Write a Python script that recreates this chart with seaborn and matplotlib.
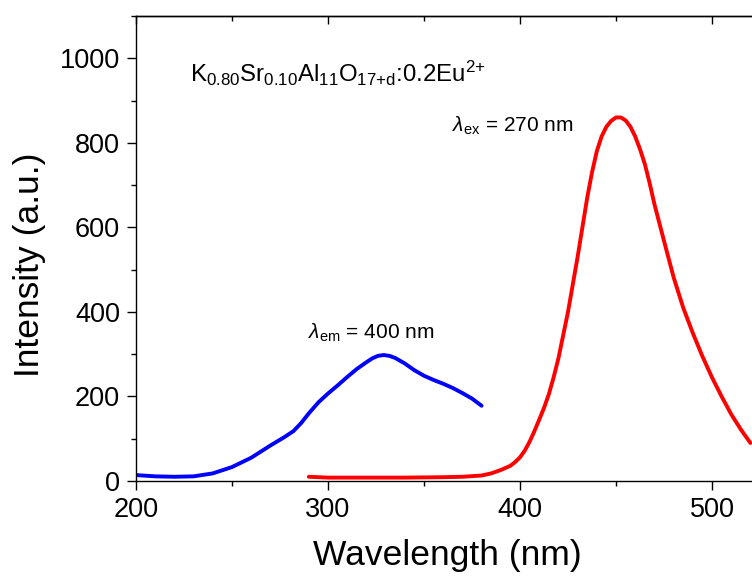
import matplotlib
matplotlib.use("Agg")
import matplotlib.pyplot as plt
from matplotlib.ticker import MultipleLocator
import pandas as pd
import seaborn as sb

# excitation spectrum (lambda_em = 400 nm)
ex_wl = [200, 210, 220, 230, 240, 250, 260, 270, 277, 282, 286, 290, 295, 300, 305,
         310, 315, 320, 323, 326, 329, 332, 335, 340, 345, 350, 355, 360, 365, 370, 375, 380]
ex_int = [14, 11, 10, 11, 18, 33, 55, 84, 103, 118, 137, 160, 186, 207, 226,
          246, 265, 281, 290, 296, 298, 296, 291, 278, 262, 249, 239, 230, 220, 208, 195, 178]

# emission spectrum (lambda_ex = 270 nm)
em_wl = [290, 300, 320, 340, 360, 370, 380, 385, 390, 395, 397.5, 400, 402.5, 405, 407.5,
         410, 412.5, 415, 417.5, 420, 422.5, 425, 427.5, 430, 432.5, 435, 437.5, 440,
         442.5, 445, 447.5, 450, 452.5, 455, 457.5, 460, 462.5, 465, 467.5, 470, 475,
         480, 485, 490, 495, 500, 505, 510, 515, 520]
em_int = [10, 8, 8, 8, 9, 10, 13, 18, 26, 36, 45, 56, 72, 93, 118,
          145, 173, 205, 245, 290, 345, 400, 465, 530, 600, 670, 730, 780,
          815, 838, 852, 860, 860, 853, 838, 815, 785, 750, 705, 655, 568,
          482, 410, 350, 295, 245, 200, 158, 122, 90]

sb.set_style("ticks")
plt.rcParams['font.family'] = ['Liberation Sans', 'DejaVu Sans']
plt.rcParams['mathtext.fontset'] = 'custom'
plt.rcParams['mathtext.rm'] = 'Liberation Sans'
plt.rcParams['mathtext.it'] = 'Liberation Sans:italic'
plt.rcParams['text.color'] = 'black'
plt.rcParams['axes.labelcolor'] = 'black'
plt.rcParams['xtick.color'] = 'black'
plt.rcParams['ytick.color'] = 'black'

ex = pd.DataFrame({"wl": ex_wl, "I": ex_int})
em = pd.DataFrame({"wl": em_wl, "I": em_int})

fig = plt.figure(figsize=(7.52, 5.77), dpi=100)
ax = fig.add_axes([136 / 752, 96 / 577, 652.8 / 752, 465 / 577])

sb.lineplot(data=ex, x="wl", y="I", color="#0000ff", linewidth=2.8, ax=ax)
sb.lineplot(data=em, x="wl", y="I", color="#ff0000", linewidth=2.8, ax=ax)

ax.set_xlim(200, 540)
ax.set_ylim(0, 1100)
ax.xaxis.set_major_locator(MultipleLocator(100))
ax.xaxis.set_minor_locator(MultipleLocator(50))
ax.yaxis.set_major_locator(MultipleLocator(200))
ax.yaxis.set_minor_locator(MultipleLocator(100))
ax.tick_params(which='major', direction='out', length=6.5, width=1, labelsize=19.5, pad=5)
ax.tick_params(which='minor', direction='out', length=3.5, width=1)

for s in ax.spines.values():
    s.set_linewidth(1)
    s.set_color('black')
ax.spines['right'].set_visible(False)

top = ax.secondary_xaxis('top')
top.xaxis.set_major_locator(MultipleLocator(100))
top.xaxis.set_minor_locator(MultipleLocator(50))
top.tick_params(which='major', direction='in', length=6, width=1, labeltop=False)
top.tick_params(which='minor', direction='in', length=3.5, width=1)
top.spines['top'].set_linewidth(1)
top.spines['top'].set_color('black')

ax.set_xlabel("Wavelength (nm)", fontsize=25.5, va='center')
ax.set_ylabel("Intensity (a.u.)", fontsize=25.5, va='center')
ax.xaxis.set_label_coords((447 - 136) / 652.8, (481 - 556) / 465)
ax.yaxis.set_label_coords((30 - 136) / 652.8, (481 - 265) / 465)

ax.text(228, 965, r"K$_{0.80}$Sr$_{0.10}$Al$_{11}$O$_{\mathrm{17{+}d}}$:0.2Eu$^{2{+}}$",
        fontsize=17.3, va='center', ha='left')
ax.text(364.5, 839, r"$\lambda_{\mathrm{ex}}$ = 270 nm", fontsize=15, va='center', ha='left')
ax.text(289.5, 350, r"$\lambda_{\mathrm{em}}$ = 400 nm", fontsize=15, va='center', ha='left')

fig.savefig("out.png", dpi=100)
